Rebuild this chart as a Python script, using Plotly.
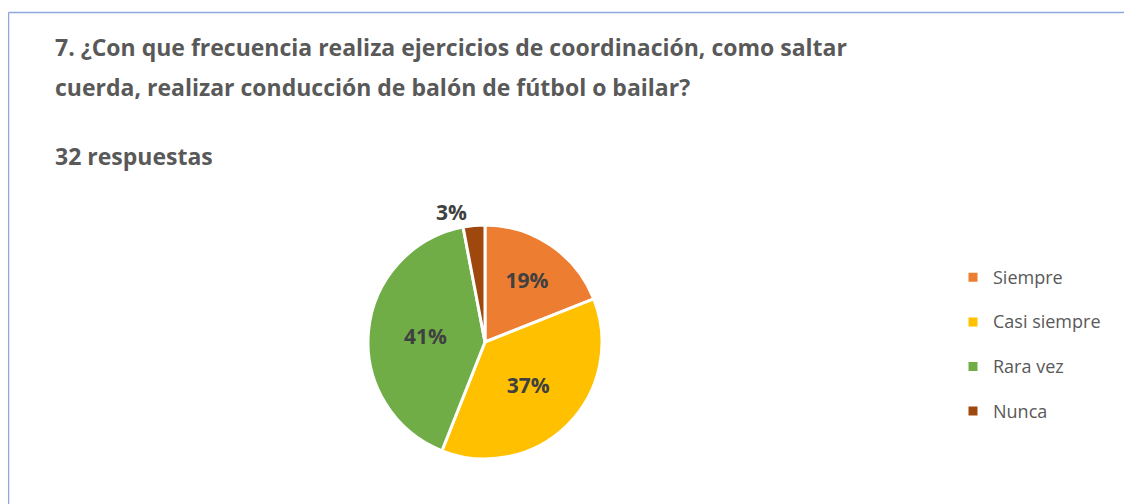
import plotly.graph_objects as go

categories = ["Siempre", "Casi siempre", "Rara vez", "Nunca"]
percentages = [19, 37, 41, 3]
colors = ["#ED7D31", "#FFC000", "#70AD47", "#9E480E"]
title_lines = [
    "7. ¿Con que frecuencia realiza ejercicios de coordinación, como saltar",
    "cuerda, realizar conducción de balón de fútbol o bailar?",
]
subtitle = "32 respuestas"

# page body has an 8px margin, so the figure is placed 8px right/down
OFF = 8
W, H = 1132 - OFF, 504 - OFF
FONT = "Open Sans"


def px(x):
    return (x - OFF) / W


def py(y):
    return 1 - (y - OFF) / H


legend_labels = [
    f'<span style="font-size:18px;baseline-shift:6px">{c}</span>' for c in categories
]

fig = go.Figure(
    go.Pie(
        labels=legend_labels,
        values=percentages,
        sort=False,
        direction="clockwise",
        rotation=0,
        marker=dict(colors=colors, line=dict(color="white", width=3)),
        texttemplate="%{value}%",
        textposition=["inside", "inside", "inside", "outside"],
        insidetextorientation="horizontal",
        textfont=dict(family=FONT, size=21, color="#404040", weight="bold"),
        hoverinfo="label+percent",
        domain=dict(x=[px(368), px(602)], y=[py(459), py(225)]),
    )
)

ann = []
for i, line in enumerate(title_lines):
    ann.append(dict(
        text=f"<b>{line}</b>", xref="paper", yref="paper",
        x=px(53), y=py(47 + 40 * i), xanchor="left", yanchor="middle",
        showarrow=False, font=dict(family=FONT, size=23, color="#595959"),
    ))
ann.append(dict(
    text=f"<b>{subtitle}</b>", xref="paper", yref="paper",
    x=px(53), y=py(156), xanchor="left", yanchor="middle",
    showarrow=False, font=dict(family=FONT, size=23, color="#595959"),
))

shapes = [
    dict(type="line", xref="paper", yref="paper", x0=px(8.5), x1=1, y0=py(12.5), y1=py(12.5),
         line=dict(color="#8EA9DB", width=1.5)),
    dict(type="line", xref="paper", yref="paper", x0=px(8.5), x1=px(8.5), y0=0, y1=py(12.5),
         line=dict(color="#8EA9DB", width=1.5)),
]

fig.update_layout(
    width=W, height=H,
    margin=dict(l=0, r=0, t=0, b=0),
    paper_bgcolor="white", plot_bgcolor="white",
    annotations=ann, shapes=shapes,
    legend=dict(
        x=px(953), y=py(250), xanchor="left", yanchor="top",
        font=dict(family=FONT, size=32, color="#595959"),
        itemclick=False,
    ),
    showlegend=True,
)

fig.write_html("out.html")
